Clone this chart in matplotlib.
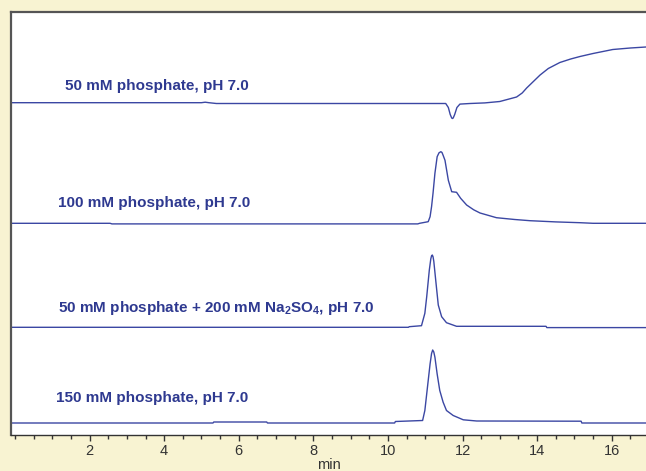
import numpy as np
import matplotlib
matplotlib.use('Agg')
import matplotlib.pyplot as plt
from matplotlib.ticker import MultipleLocator

plt.rcParams['font.family'] = ['Liberation Sans', 'DejaVu Sans']
plt.rcParams['mathtext.fontset'] = 'custom'
plt.rcParams['mathtext.rm'] = 'Liberation Sans:bold'
plt.rcParams['mathtext.bf'] = 'Liberation Sans:bold'

# Chromatogram traces (time in min, signal in arbitrary units)
# 50 mM phosphate, pH 7.0
t_50 = [-0.1, 5.0, 5.1, 5.2, 5.4, 11.55, 11.62, 11.67, 11.71, 11.73, 11.75, 11.79, 11.85,
        11.93, 12.2, 12.6, 13.0, 13.2, 13.45, 13.6, 13.72, 13.9, 14.08, 14.3, 14.61,
        14.9, 15.15, 15.5, 16.03, 16.5, 16.92]
s_50 = [0.8, 0.8, 1.3, 0.8, 0.0, 0.0, -4.0, -11.0, -14.5, -15.0, -14.5, -11.0, -4.0,
        -0.6, 0.0, 0.6, 2.0, 4.0, 6.5, 10.5, 15.5, 22.0, 28.5, 35.0, 41.0,
        44.5, 47.0, 50.0, 54.0, 55.5, 56.5]

# 100 mM phosphate, pH 7.0
t_100 = [-0.1, 2.55, 2.6, 10.8, 10.85, 11.08, 11.13, 11.17, 11.21, 11.26, 11.32, 11.37,
         11.42, 11.45, 11.48, 11.53, 11.62, 11.71, 11.84, 11.95, 12.11, 12.3, 12.47, 12.91,
         13.4, 13.81, 14.5, 15.15, 15.5, 16.92]
s_100 = [0.0, 0.0, -0.6, -0.6, 0.0, 1.6, 6.6, 16.6, 30.3, 50.0, 66.6, 70.5,
         71.6, 70.8, 68.0, 63.0, 43.0, 31.6, 31.0, 25.0, 18.3, 13.5, 10.3, 5.6,
         3.8, 2.6, 1.4, 0.6, 0.0, 0.0]

# 50 mM phosphate + 200 mM Na2SO4, pH 7.0
t_na = [-0.1, 10.55, 10.57, 10.90, 10.99, 11.04, 11.11, 11.15, 11.17, 11.19, 11.21, 11.23,
        11.29, 11.35, 11.44, 11.57, 11.84, 14.24, 14.26, 16.92]
s_na = [0.0, 0.0, 0.6, 1.6, 14.0, 30.6, 57.3, 68.5, 71.5, 72.3, 70.5, 66.0,
        44.0, 22.3, 10.6, 4.6, 1.0, 1.0, -0.3, -0.3]

# 150 mM phosphate, pH 7.0
t_150 = [-0.1, 5.31, 5.33, 6.75, 6.77, 10.18, 10.2, 10.93, 10.99, 11.06, 11.13, 11.17,
         11.20, 11.23, 11.26, 11.32, 11.39, 11.48, 11.57, 11.75, 12.02, 12.38, 15.18,
         15.2, 16.92]
s_150 = [0.0, 0.0, 1.0, 1.0, 0.0, 0.0, 1.5, 2.5, 12.5, 35.8, 59.0, 69.5,
         73.0, 71.0, 65.8, 49.0, 32.5, 20.8, 12.5, 7.5, 3.2, 2.0, 1.8,
         0.0, 0.0]

labels = ['50 mM phosphate, pH 7.0',
          '100 mM phosphate, pH 7.0',
          r'50 mM phosphate + 200 mM Na$_{2}$SO$_{4}$, pH 7.0',
          '150 mM phosphate, pH 7.0']
offsets = [331.5, 211.7, 107.7, 12.0]
label_x = [1.34, 1.16, 1.16, 1.10]
label_y = [345.0, 227.7, 122.7, 32.7]

traces = [(t_50, s_50), (t_100, s_100), (t_na, s_na), (t_150, s_150)]

cream = '#f8f3d2'
line_col = '#3b47a3'
text_col = '#2e3990'

fig = plt.figure(figsize=(6.46, 4.71), dpi=100, facecolor=cream)
ax = fig.add_axes([11 / 646, 36 / 471, 1 - 11 / 646, 423 / 471])
ax.set_facecolor('white')

for (t, s), off in zip(traces, offsets):
    ax.plot(t, np.array(s) + off, color=line_col, lw=1.0)

for lab, lx, ly in zip(labels, label_x, label_y):
    ax.text(lx, ly, lab, color=text_col, fontsize=11, fontweight='bold',
            ha='left', va='baseline')

ax.set_xlim(-0.107, 16.92)
ax.set_ylim(0, 423)
ax.xaxis.set_major_locator(MultipleLocator(2))
ax.xaxis.set_minor_locator(MultipleLocator(0.5))
ax.set_xticks([2, 4, 6, 8, 10, 12, 14, 16])
ax.set_yticks([])
ax.tick_params(axis='x', which='major', length=4.5, width=1, color='#333333',
               labelsize=10.5, labelcolor='#333333', pad=2)
ax.tick_params(axis='x', which='minor', length=3, width=1, color='#333333')
ax.set_xlabel('min', fontsize=10.5, color='#333333', labelpad=0)

ax.spines['right'].set_visible(False)
ax.spines['left'].set_color('#555555')
ax.spines['left'].set_linewidth(1.6)
ax.spines['top'].set_color('#555555')
ax.spines['top'].set_linewidth(1.6)
ax.spines['bottom'].set_color('#333333')
ax.spines['bottom'].set_linewidth(1.0)

fig.savefig('out.png', dpi=100, facecolor=cream)
